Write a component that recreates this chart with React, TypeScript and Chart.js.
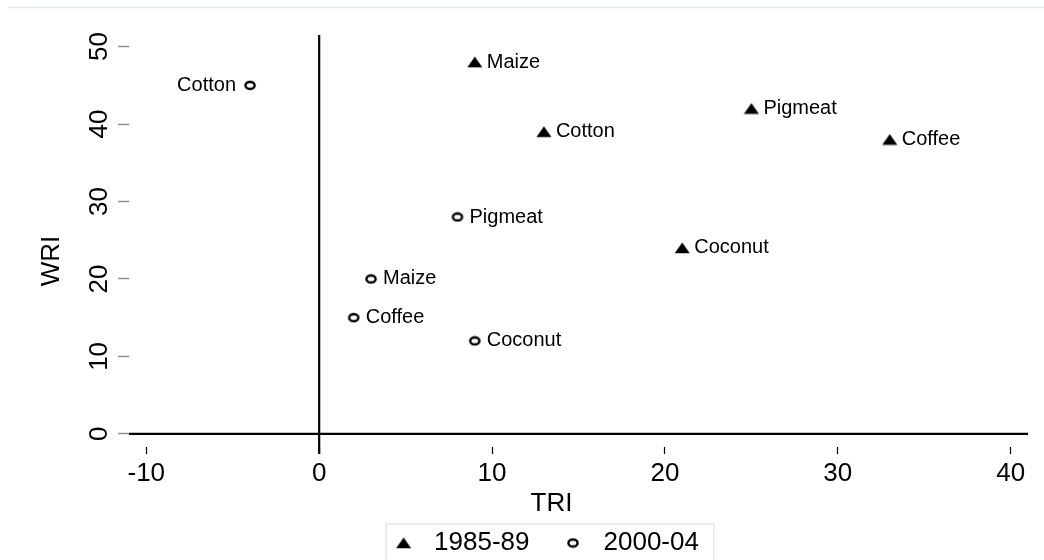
import React, { useEffect, useRef } from 'react';
import { Chart, registerables } from 'chart.js';

Chart.register(...registerables);

// ---- data ----
const categories = ['Maize', 'Cotton', 'Pigmeat', 'Coffee', 'Coconut'];
const seriesNames = ['1985-89', '2000-04'];
const tri8589 = [9, 13, 25, 33, 21];
const wri8589 = [48, 39, 42, 38, 24];
const tri0004 = [3, -4, 8, 2, 9];
const wri0004 = [20, 45, 28, 15, 12];
const xTicks = [-10, 0, 10, 20, 30, 40];
const yTicks = [0, 10, 20, 30, 40, 50];
const xTitle = 'TRI';
const yTitle = 'WRI';

// labels placed on the left of their marker (series:category)
const leftLabels = new Set(['2000-04:Cotton']);

const FONT = '"Liberation Sans", Arial, Helvetica, sans-serif';

function makeTriangle(): HTMLCanvasElement {
  const c = document.createElement('canvas');
  c.width = 16;
  c.height = 12;
  const g = c.getContext('2d')!;
  g.fillStyle = '#000';
  g.beginPath();
  g.moveTo(8, 0.5);
  g.lineTo(15.5, 11.2);
  g.lineTo(0.5, 11.2);
  g.closePath();
  g.fill();
  return c;
}

function makeRing(): HTMLCanvasElement {
  const c = document.createElement('canvas');
  c.width = 14;
  c.height = 11;
  const g = c.getContext('2d')!;
  g.strokeStyle = '#000';
  g.lineWidth = 2.4;
  g.beginPath();
  g.ellipse(7, 5.5, 4.6, 3.5, 0, 0, Math.PI * 2);
  g.stroke();
  return c;
}

const annotate = {
  id: 'annotate',
  beforeDatasetsDraw(chart: any) {
    const { ctx, chartArea, scales } = chart;
    const x = scales.x;
    const y = scales.y;
    const y0 = y.getPixelForValue(0);
    const x0 = x.getPixelForValue(0);
    ctx.save();
    ctx.strokeStyle = '#000';
    ctx.lineWidth = 2.2;
    ctx.beginPath();
    ctx.moveTo(chartArea.left, y0);
    ctx.lineTo(chartArea.right, y0);
    ctx.stroke();
    ctx.beginPath();
    ctx.moveTo(x0, chartArea.top);
    ctx.lineTo(x0, chartArea.bottom + 7);
    ctx.stroke();
    ctx.restore();
  },
  afterDatasetsDraw(chart: any) {
    const { ctx } = chart;
    ctx.save();
    ctx.font = `20px ${FONT}`;
    ctx.fillStyle = '#000';
    ctx.textBaseline = 'middle';
    chart.data.datasets.forEach((ds: any, di: number) => {
      const meta = chart.getDatasetMeta(di);
      meta.data.forEach((pt: any, i: number) => {
        const name = ds.pointLabels[i];
        if (leftLabels.has(`${ds.label}:${name}`)) {
          ctx.textAlign = 'right';
          ctx.fillText(name, pt.x - 14, pt.y);
        } else {
          ctx.textAlign = 'left';
          ctx.fillText(name, pt.x + 12, pt.y);
        }
      });
    });
    ctx.restore();
  },
  afterDraw(chart: any) {
    const { ctx, chartArea } = chart;
    ctx.save();
    // faint outer border at the top
    ctx.strokeStyle = '#e3eaea';
    ctx.lineWidth = 1.5;
    ctx.beginPath();
    ctx.moveTo(8, 7.5);
    ctx.lineTo(chart.width, 7.5);
    ctx.stroke();
    // legend frame
    const lg = chart.legend;
    if (lg && lg.legendHitBoxes && lg.legendHitBoxes.length) {
      const hb = lg.legendHitBoxes;
      const first = hb[0];
      const last = hb[hb.length - 1];
      const cy = first.top + first.height / 2;
      const left = first.left;
      const right = last.left + last.width + 15;
      ctx.strokeStyle = '#e2e7e7';
      ctx.lineWidth = 1.5;
      ctx.beginPath();
      ctx.moveTo(left, chart.height + 2);
      ctx.lineTo(left, cy - 19);
      ctx.lineTo(right, cy - 19);
      ctx.lineTo(right, chart.height + 2);
      ctx.stroke();
    }
    // axis titles
    ctx.fillStyle = '#000';
    ctx.font = `26px ${FONT}`;
    ctx.textAlign = 'center';
    ctx.textBaseline = 'middle';
    ctx.fillText(xTitle, chartArea.left + (chartArea.right - chartArea.left) * 0.47, chartArea.bottom + 57);
    ctx.translate(52, (chartArea.top + chartArea.bottom) / 2 + 20);
    ctx.rotate(-Math.PI / 2);
    ctx.fillText(yTitle, 0, 0);
    ctx.restore();
  },
};

export default function App() {
  const ref = useRef<HTMLCanvasElement | null>(null);

  useEffect(() => {
    if (!ref.current) return;
    const tri = makeTriangle();
    const ring = makeRing();
    const chart = new Chart(ref.current, {
      type: 'scatter',
      data: {
        datasets: [
          {
            label: seriesNames[0],
            data: tri8589.map((v, i) => ({ x: v, y: wri8589[i] })),
            pointLabels: categories,
            pointStyle: tri,
            backgroundColor: '#000',
            borderColor: '#000',
          } as any,
          {
            label: seriesNames[1],
            data: tri0004.map((v, i) => ({ x: v, y: wri0004[i] })),
            pointLabels: categories,
            pointStyle: ring,
            backgroundColor: '#000',
            borderColor: '#000',
          } as any,
        ],
      },
      options: {
        responsive: false,
        animation: false,
        layout: { padding: { left: 57, right: 16, top: 35, bottom: -6 } },
        scales: {
          x: {
            type: 'linear',
            min: -11,
            max: 41,
            afterBuildTicks: (s: any) => {
              s.ticks = xTicks.map((v) => ({ value: v }));
            },
            afterFit: (s: any) => {
              s.height = 57;
            },
            border: { display: false },
            grid: {
              display: true,
              drawOnChartArea: false,
              drawTicks: true,
              tickLength: 7,
              tickColor: '#000',
              tickWidth: 1.2,
            },
            ticks: {
              autoSkip: false,
              color: '#000',
              padding: 4,
              font: { family: FONT, size: 26 },
            },
          },
          y: {
            type: 'linear',
            min: -1.7,
            max: 51.5,
            afterBuildTicks: (s: any) => {
              s.ticks = yTicks.map((v) => ({ value: v }));
            },
            afterFit: (s: any) => {
              s.width = 72;
            },
            border: { display: false },
            grid: {
              display: true,
              drawOnChartArea: false,
              drawTicks: true,
              tickLength: 11,
              tickColor: '#8c8c8c',
              tickWidth: 1.4,
            },
            ticks: {
              autoSkip: false,
              minRotation: 90,
              maxRotation: 90,
              crossAlign: 'center',
              color: '#000',
              padding: 4,
              font: { family: FONT, size: 26 },
            },
          },
        },
        plugins: {
          legend: {
            display: true,
            position: 'bottom',
            labels: {
              usePointStyle: true,
              pointStyleWidth: 35,
              padding: 26,
              color: '#000',
              font: { family: FONT, size: 26 },
            },
          },
          tooltip: { enabled: false },
        },
      } as any,
      plugins: [annotate],
    });
    return () => chart.destroy();
  }, []);

  return (
    <div style={{ position: 'absolute', left: 0, top: 0, width: 1044, height: 560, background: '#fff' }}>
      <canvas ref={ref} width={1044} height={560} style={{ display: 'block' }} />
    </div>
  );
}
